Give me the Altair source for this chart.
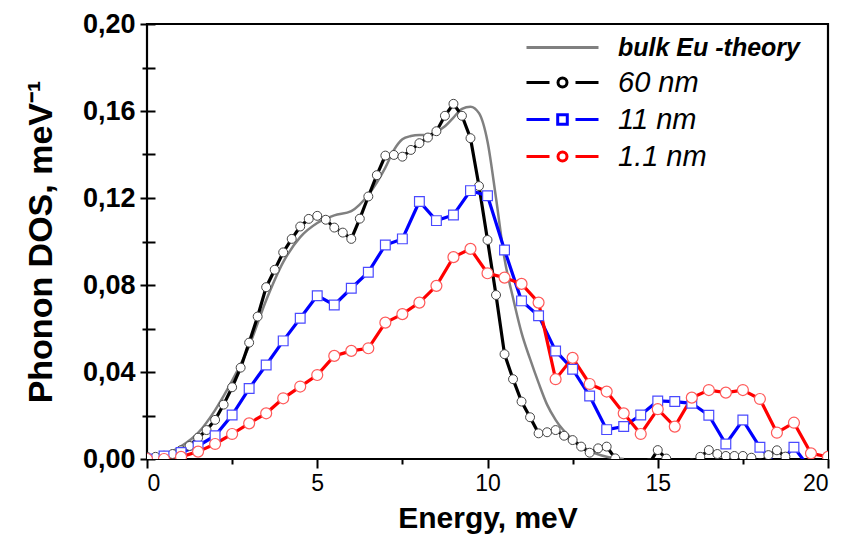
import altair as alt
import pandas as pd

# ---------------- data ----------------
series_names = ["bulk Eu -theory", "60 nm", "11 nm", "1.1 nm"]
line_colors = ["#808080", "#000000", "#0000ff", "#ff0000"]

# bulk Eu theory (smooth curve)
e_bulk = [0.0, 0.5, 1.0, 1.5, 2.0, 2.5, 3.0, 3.5, 4.0, 4.5, 5.0, 5.5, 6.0, 6.5, 7.0,
          7.25, 7.5, 7.75, 8.0, 8.25, 8.5, 8.75, 9.0, 9.25, 9.5, 9.75, 10.0, 10.25,
          10.5, 10.75, 11.0, 11.25, 11.5, 11.75, 12.0, 12.5, 13.0, 13.5, 14.0]
d_bulk = [0.0, 0.0018, 0.0058, 0.012, 0.0225, 0.036, 0.052, 0.073, 0.0905, 0.102,
          0.1085, 0.112, 0.114, 0.1215, 0.134, 0.142, 0.147, 0.1485, 0.149, 0.149,
          0.1505, 0.153, 0.157, 0.161, 0.162, 0.159, 0.146, 0.12, 0.092, 0.074,
          0.058, 0.046, 0.035, 0.025, 0.018, 0.009, 0.0037, 0.001, 0.0]

# 60 nm film
e_60 = [0.0, 0.25, 0.5, 0.75, 1.0, 1.25, 1.5, 1.75, 2.0, 2.25, 2.5, 2.75, 3.0, 3.25,
        3.5, 3.75, 4.0, 4.25, 4.5, 4.75, 5.0, 5.25, 5.5, 5.75, 6.0, 6.25, 6.5, 6.75,
        7.0, 7.25, 7.5, 7.75, 8.0, 8.25, 8.5, 8.75, 9.0, 9.25, 9.5, 9.75, 10.0, 10.25,
        10.5, 10.75, 11.0, 11.25, 11.5, 11.75, 12.0, 12.25, 12.5, 12.75, 13.0, 13.25,
        13.5, 13.75, 14.0, 14.25, 14.5, 14.75, 15.0, 15.25, 15.5, 15.75, 16.0, 16.25,
        16.5, 16.75, 17.0, 17.25, 17.5, 17.75, 18.0, 18.25, 18.5, 18.75, 19.0, 19.25,
        19.5, 19.75, 20.0]
d_60 = [0.001, 0.001, 0.0015, 0.0023, 0.004, 0.006, 0.0098, 0.0133, 0.018, 0.025,
        0.033, 0.042, 0.0535, 0.0655, 0.079, 0.087, 0.095, 0.1012, 0.1069, 0.1104,
        0.1118, 0.110, 0.1064, 0.1041, 0.1012, 0.1105, 0.1207, 0.1305, 0.1395, 0.1398,
        0.139, 0.1421, 0.1452, 0.1478, 0.1507, 0.1578, 0.1633, 0.1578, 0.1475, 0.1255,
        0.1007, 0.0754, 0.0482, 0.0367, 0.0264, 0.0192, 0.0118, 0.0123, 0.0133, 0.0107,
        0.0087, 0.0057, 0.0029, 0.0049, 0.0057, 0.0003, -0.003, -0.003, -0.003, -0.002,
        0.0041, 0.0002, -0.003, -0.003, -0.002, 0.001, 0.0041, 0.0023, 0.0014, 0.0014,
        0.0014, 0.0006, -0.002, 0.0018, 0.004, 0.0011, -0.003, -0.003, -0.003, -0.003,
        -0.003]

# 11 nm film
e_11 = [0.0, 0.5, 1.0, 1.5, 2.0, 2.5, 3.0, 3.5, 4.0, 4.5, 5.0, 5.5, 6.0, 6.5, 7.0,
        7.5, 8.0, 8.5, 9.0, 9.5, 10.0, 10.5, 11.0, 11.5, 12.0, 12.5, 13.0, 13.5, 14.0,
        14.5, 15.0, 15.5, 16.0, 16.5, 17.0, 17.5, 18.0, 18.5, 19.0, 19.5]
d_11 = [0.0, 0.0014, 0.003, 0.006, 0.0107, 0.0202, 0.0324, 0.0432, 0.0543, 0.0647,
        0.0751, 0.0708, 0.0785, 0.0859, 0.0984, 0.1012, 0.1184, 0.1096, 0.1122, 0.1234,
        0.121, 0.0961, 0.0727, 0.0659, 0.0497, 0.0413, 0.029, 0.0135, 0.0149, 0.0202,
        0.0267, 0.0264, 0.0256, 0.0201, 0.0069, 0.0179, 0.0054, -0.003, 0.0054, -0.005]

# 1.1 nm film
e_1p1 = [0.0, 0.5, 1.0, 1.5, 2.0, 2.5, 3.0, 3.5, 4.0, 4.5, 5.0, 5.5, 6.0, 6.5, 7.0,
         7.5, 8.0, 8.5, 9.0, 9.5, 10.0, 10.5, 11.0, 11.5, 12.0, 12.5, 13.0, 13.5, 14.0,
         14.5, 15.0, 15.5, 16.0, 16.5, 17.0, 17.5, 18.0, 18.5, 19.0, 19.5, 20.0]
d_1p1 = [0.0, 0.0, 0.001, 0.0034, 0.0069, 0.0115, 0.0164, 0.021, 0.0279, 0.0333,
         0.0386, 0.0474, 0.0497, 0.0509, 0.0627, 0.0666, 0.0719, 0.0796, 0.0928, 0.0966,
         0.0854, 0.0834, 0.0805, 0.0719, 0.0367, 0.0465, 0.0345, 0.031, 0.021, 0.0115,
         0.0229, 0.0149, 0.0282, 0.0317, 0.0305, 0.0317, 0.0276, 0.0121, 0.0167, 0.0026,
         0.001]

y_ticks = [0.0, 0.02, 0.04, 0.06, 0.08, 0.10, 0.12, 0.14, 0.16, 0.18, 0.20]
x_ticks = [0, 2.5, 5, 7.5, 10, 12.5, 15, 17.5, 20]

# ---------------- tables ----------------
def frame(xs, ys, name):
    return pd.DataFrame({"energy": xs, "dos": ys, "series": name})

df_bulk = frame(e_bulk, d_bulk, series_names[0])
df_60 = frame(e_60, d_60, series_names[1])
df_11 = frame(e_11, d_11, series_names[2])
df_1p1 = frame(e_1p1, d_1p1, series_names[3])
df_meas = pd.concat([df_60, df_11, df_1p1], ignore_index=True)

FONT = "Liberation Sans"

x_axis = alt.Axis(
    values=x_ticks, domain=False, grid=False,
    labelExpr="datum.value % 5 == 0 ? format(datum.value, 'd') : ''",
    tickSize={"condition": {"test": "datum.value % 5 == 0", "value": 9}, "value": 5},
    tickWidth=2, tickColor="black",
    labelFont=FONT, labelFontSize=23, labelColor="black", labelPadding=4,
    title="Energy, meV", titleFont=FONT, titleFontSize=30, titleFontWeight="bold",
    titleColor="black", titlePadding=8,
)
y_axis = alt.Axis(
    values=y_ticks, domain=False, grid=False, offset=-8,
    labelExpr="round(datum.value*100) % 4 == 0 ? replace(format(datum.value, '.2f'), '.', ',') : ''",
    tickSize={"condition": {"test": "round(datum.value*100) % 4 == 0", "value": 15}, "value": 13},
    tickWidth=2, tickColor="black",
    labelFont=FONT, labelFontSize=27, labelFontWeight="bold", labelColor="black",
    labelPadding=5,
    title="Phonon DOS, meV⁻¹", titleFont=FONT, titleFontSize=34, titleFontWeight="bold",
    titleColor="black", titlePadding=24,
)

xenc = alt.X("energy:Q", scale=alt.Scale(domain=[0, 20], nice=False, zero=False), axis=x_axis)
yenc = alt.Y("dos:Q", scale=alt.Scale(domain=[0, 0.2], nice=False), axis=y_axis)

# legend symbols (unit = 10 px with symbolSize 400): line with a marker in the middle
circle_path = "M0.45,0A0.45,0.45,0,1,1,-0.45,0A0.45,0.45,0,1,1,0.45,0Z"
square_path = "M-0.48,-0.48L0.48,-0.48L0.48,0.48L-0.48,0.48Z"
seg_path = "M-3.6,0L-1.3,0M1.3,0L3.6,0"
sym_expr = (
    "datum.value == 'bulk Eu -theory' ? 'M-3.6,0L3.6,0' : "
    f"datum.value == '11 nm' ? '{seg_path}{square_path}' : '{seg_path}{circle_path}'"
)

legend = alt.Legend(
    orient="none", legendX=401, legendY=9, title=None,
    labelFont=FONT,
    labelFontSize={"expr": "datum.value == 'bulk Eu -theory' ? 25 : 29"},
    labelFontWeight={"expr": "datum.value == 'bulk Eu -theory' ? 'bold' : 'normal'"},
    labelFontStyle="italic", labelColor="black",
    symbolType={"expr": sym_expr}, symbolSize=400, symbolStrokeWidth=3,
    labelOffset=41, rowPadding=7, labelLimit=400,
)

color = alt.Color("series:N", scale=alt.Scale(domain=series_names, range=line_colors),
                  legend=legend)

bulk_line = alt.Chart(df_bulk).mark_line(clip=True, strokeWidth=2.5, interpolate="monotone").encode(
    x=xenc, y=yenc, color=color)

meas_lines = alt.Chart(df_meas).mark_line(clip=True, strokeWidth=3.2).encode(
    x=xenc, y=yenc, color=alt.Color("series:N", scale=alt.Scale(domain=series_names, range=line_colors),
                                    legend=None),
    detail="series:N")

pts_60 = alt.Chart(df_60).mark_point(clip=True, shape="circle", size=80, filled=True,
                                     fill="white", stroke="#444444", strokeWidth=1,
                                     opacity=1).encode(x=xenc, y=yenc)
pts_11 = alt.Chart(df_11).mark_point(clip=True, shape="square", size=95, filled=True,
                                     fill="white", stroke="#4a4aff", strokeWidth=1.2,
                                     opacity=1).encode(x=xenc, y=yenc)
pts_1p1 = alt.Chart(df_1p1).mark_point(clip=True, shape="circle", size=120, filled=True,
                                       fill="white", stroke="#ff5a5a", strokeWidth=1.2,
                                       opacity=1).encode(x=xenc, y=yenc)

chart = alt.layer(bulk_line, meas_lines, pts_60, pts_11, pts_1p1).properties(
    width=681, height=435,
    autosize=alt.AutoSizeParams(type="none"),
    padding={"left": 139, "top": 16, "right": 12, "bottom": 76},
).configure_view(stroke="black", strokeWidth=2.2)

chart.save("out.html", embed_options={"renderer": "svg", "actions": False})
